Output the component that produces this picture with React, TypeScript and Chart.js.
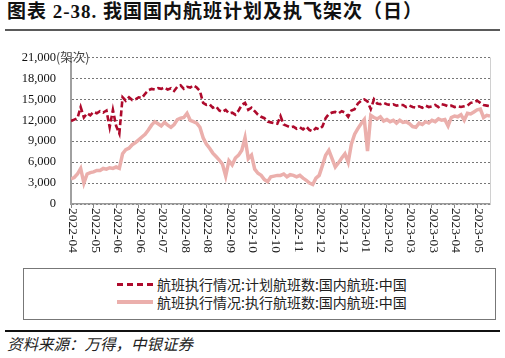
import React, { useEffect, useRef } from 'react';
import { Chart, registerables } from 'chart.js';

Chart.register(...registerables);

// ---- data ----
const xTickLabels = [
  '2022-04', '2022-05', '2022-06', '2022-06', '2022-07', '2022-08', '2022-08', '2022-09',
  '2022-10', '2022-10', '2022-11', '2022-12', '2022-12', '2023-01', '2023-02', '2023-03',
  '2023-03', '2023-04', '2023-05',
];
const pointsPerTick = 7;

const plannedName = '航班执行情况:计划航班数:国内航班:中国';
const executedName = '航班执行情况:执行航班数:国内航班:中国';

const planned = [
  11900, 12100, 12300, 13900, 12400, 13000, 12700, 13200, 13000, 13300,
  13100, 13400, 11000, 13500, 11200, 10100, 15300, 14800, 15300, 14900,
  15000, 15300, 15200, 15800, 16300, 16500, 16400, 16600, 16500, 16700,
  16400, 16600, 16200, 16800, 17000, 16500, 16800, 16700, 17000, 16700,
  16200, 14500, 14200, 14300, 13800, 14000, 13400, 13200, 13500, 13000,
  13100, 12800, 13400, 14200, 14500, 13500, 13800, 13300, 12800, 12500,
  12300, 11800, 11700, 11600, 11500, 12600, 11400, 11200, 11000, 11100,
  10800, 11000, 10700, 11100, 10600, 10400, 10900, 10700, 11100, 12300,
  12900, 13100, 13200, 13000, 13300, 13100, 12500, 13400, 13600, 14400,
  14800, 15000, 14700, 13600, 15000, 14400, 14300, 14500, 14300, 14200,
  14300, 14100, 14200, 14200, 13900, 14100, 13900, 13800, 14000, 13800,
  14100, 13900, 14000, 14200, 13900, 14300, 14200, 14000, 14100, 13900,
  14000, 13900, 14000, 14100, 14500, 14600, 14800, 14500, 14200, 14100,
  14000,
];

const executed = [
  3600, 3800, 4300, 5100, 3000, 4300, 4500, 4600, 4800, 4800,
  5100, 5000, 5200, 5100, 5300, 5100, 7200, 7800, 8000, 8500,
  8800, 9200, 9600, 10000, 10600, 11300, 11800, 11500, 11200, 11700,
  11300, 11000, 11400, 12100, 12300, 12400, 13000, 12000, 11800, 11600,
  11000, 9500, 8600, 8000, 7300, 6800, 6300, 5700, 4000, 6200,
  5600, 6600, 7000, 7700, 9500, 6500, 7000, 5000, 4400, 4100,
  3500, 3200, 3900, 4000, 4100, 4100, 4300, 3900, 4200, 4100,
  3900, 4100, 3700, 3400, 3000, 2800, 3700, 4100, 5500, 7000,
  7700, 6500, 5300, 5900, 6600, 7200, 6000, 8600, 10000, 10800,
  11500, 12100, 7600, 12700, 12400, 12200, 12500, 11900, 12100, 11800,
  12000, 11600, 12000, 11700, 11800, 11500, 11100, 11000, 11600, 11400,
  11800, 11600, 12000, 11800, 12200, 12000, 12100, 11200, 12400, 12600,
  12500, 12800, 12000, 13000, 12900, 13200, 13500, 13600, 12400, 12700,
  12600,
];

const yMin = 0;
const yMax = 21000;
const yStep = 3000;
const yUnit = '(架次)';

const RED = '#AE0A2C';
const PINK = '#EBAFAC';

const serif = '"Liberation Serif", "Times New Roman", serif';
const cjk = '"Noto Sans CJK SC", sans-serif';

const decorPlugin = {
  id: 'decor',
  afterDraw(chart: any) {
    const { ctx, chartArea } = chart;
    const xs = chart.scales.x;
    const ys = chart.scales.y;
    ctx.save();
    // right border
    ctx.strokeStyle = '#D0D0D0';
    ctx.lineWidth = 1;
    ctx.beginPath();
    ctx.moveTo(chartArea.right + 0.5, chartArea.top);
    ctx.lineTo(chartArea.right + 0.5, chartArea.bottom);
    ctx.stroke();
    // rotated x labels (clockwise)
    ctx.font = `13.5px ${serif}`;
    ctx.fillStyle = '#222';
    xTickLabels.forEach((lab, i) => {
      const px = xs.getPixelForValue(i * pointsPerTick);
      ctx.save();
      ctx.translate(px + 1.5, xs.top + 4);
      ctx.rotate(Math.PI / 2);
      ctx.textAlign = 'left';
      ctx.textBaseline = 'middle';
      ctx.fillText(lab, 0, 0);
      ctx.restore();
    });
    // unit label
    ctx.font = `12.5px ${cjk}`;
    ctx.fillStyle = '#444';
    ctx.textAlign = 'left';
    ctx.textBaseline = 'middle';
    ctx.fillText(yUnit, 56, ys.getPixelForValue(yMax));
    ctx.restore();
  },
};

function ChartCanvas() {
  const ref = useRef<HTMLCanvasElement>(null);
  useEffect(() => {
    if (!ref.current) return;
    const chart = new Chart(ref.current, {
      type: 'line',
      data: {
        datasets: [
          {
            label: plannedName,
            data: planned.map((v, i) => ({ x: i, y: v })),
            borderColor: RED,
            borderWidth: 2.6,
            borderDash: [6, 3],
            pointRadius: 0,
            tension: 0,
            fill: false,
          },
          {
            label: executedName,
            data: executed.map((v, i) => ({ x: i, y: v })),
            borderColor: PINK,
            borderWidth: 3.5,
            pointRadius: 0,
            tension: 0,
            fill: false,
          },
        ],
      },
      options: {
        animation: false,
        responsive: false,
        devicePixelRatio: 1,
        layout: { padding: { top: 19, right: 15, left: 0, bottom: 0 } },
        plugins: { legend: { display: false }, tooltip: { enabled: false } },
        scales: {
          x: {
            type: 'linear',
            min: 0,
            max: planned.length - 1,
            afterBuildTicks: (axis: any) => {
              axis.ticks = xTickLabels.map((_, i) => ({ value: i * pointsPerTick }));
            },
            afterFit: (axis: any) => {
              axis.height = 58;
            },
            ticks: { display: false },
            grid: {
              drawOnChartArea: false,
              drawTicks: true,
              tickLength: 4,
              color: '#888',
              lineWidth: 1,
            },
            border: { display: true, color: '#999', width: 1.5 },
          },
          y: {
            min: yMin,
            max: yMax,
            afterFit: (axis: any) => {
              axis.width = 71;
            },
            ticks: {
              stepSize: yStep,
              padding: 15,
              color: '#111',
              font: { family: serif, size: 12.5 },
              callback: (v: any) => Number(v).toLocaleString('en-US'),
            },
            grid: {
              drawTicks: false,
              color: '#555',
              lineWidth: 0.8,
            },
            border: { display: true, color: '#A0A0A0', width: 2, dash: [2, 2] },
          },
        },
      },
      plugins: [decorPlugin],
    } as any);
    return () => chart.destroy();
  }, []);
  return (
    <canvas
      ref={ref}
      width={505}
      height={227}
      style={{ position: 'absolute', left: 0, top: 35, width: 505, height: 227 }}
    />
  );
}

export default function App() {
  return (
    <div
      style={{
        position: 'fixed',
        left: 0,
        top: 0,
        width: 505,
        height: 358,
        background: '#fff',
        overflow: 'hidden',
      }}
    >
      <div
        style={{
          position: 'absolute',
          left: 7,
          top: 1,
          fontFamily: `"Liberation Serif", ${cjk}`,
          fontWeight: 'bold',
          fontSize: 19,
          lineHeight: '22px',
          color: '#111',
          whiteSpace: 'nowrap',
          letterSpacing: 1,
        }}
      >
        图表 2-38. 我国国内航班计划及执飞架次（日）
      </div>
      <div style={{ position: 'absolute', left: 5, top: 29, width: 495, height: 2, background: '#5A5A5A' }} />
      <ChartCanvas />
      <div
        style={{
          position: 'absolute',
          left: 23,
          top: 268,
          width: 471,
          height: 50,
          border: '1px solid #777',
        }}
      >
        {[
          { name: plannedName, dashed: true },
          { name: executedName, dashed: false },
        ].map((item, k) => (
          <div
            key={k}
            style={{
              position: 'absolute',
              left: 93,
              top: 6 + k * 18,
              height: 18,
              display: 'flex',
              alignItems: 'center',
              whiteSpace: 'nowrap',
            }}
          >
            <span
              style={{
                display: 'inline-block',
                width: 36,
                height: 0,
                borderTop: item.dashed ? `3px dashed ${RED}` : `4px solid ${PINK}`,
                marginRight: 4,
              }}
            />
            <span style={{ fontFamily: cjk, fontSize: 14, letterSpacing: 0, color: '#222' }}>{item.name}</span>
          </div>
        ))}
      </div>
      <div style={{ position: 'absolute', left: 5, top: 330, width: 495, height: 2, background: '#111' }} />
      <div
        style={{
          position: 'absolute',
          left: 7,
          top: 334,
          fontFamily: cjk,
          fontStyle: 'italic',
          fontSize: 15.5,
          lineHeight: '18px',
          color: '#222',
          whiteSpace: 'nowrap',
        }}
      >
        资料来源：万得，中银证券
      </div>
    </div>
  );
}
